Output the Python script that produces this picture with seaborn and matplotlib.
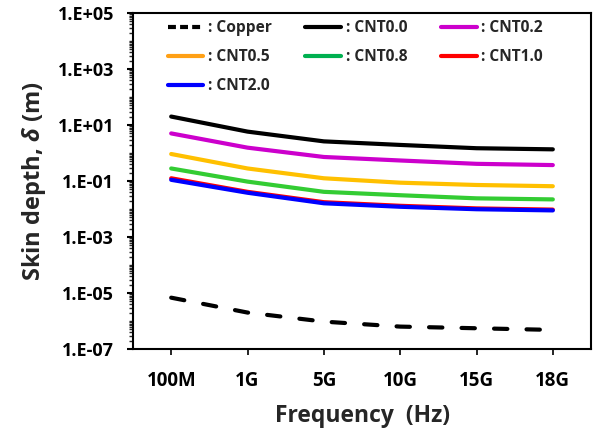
import numpy as np
import pandas as pd
import matplotlib
matplotlib.use("Agg")
import matplotlib.pyplot as plt
import matplotlib.ticker as mticker
from matplotlib.lines import Line2D
import seaborn as sns

# Frequency points (categorical axis)
frequencies = ["100M", "1G", "5G", "10G", "15G", "18G"]

# Skin depth (m) for each material
copper = [6.8e-6, 2.0e-6, 9.5e-7, 6.3e-7, 5.5e-7, 4.8e-7]
cnt00 = [20.0, 5.8, 2.6, 1.94, 1.48, 1.35]
cnt02 = [5.0, 1.55, 0.72, 0.54, 0.41, 0.37]
cnt05 = [0.92, 0.28, 0.125, 0.087, 0.072, 0.065]
cnt08 = [0.28, 0.095, 0.041, 0.031, 0.024, 0.022]
cnt10 = [0.125, 0.041, 0.0175, 0.013, 0.0105, 0.0095]
cnt20 = [0.11, 0.038, 0.016, 0.012, 0.0098, 0.0089]

series_names = ["Copper", "CNT0.0", "CNT0.2", "CNT0.5", "CNT0.8", "CNT1.0", "CNT2.0"]
series_values = [copper, cnt00, cnt02, cnt05, cnt08, cnt10, cnt20]
line_colors = ["#000000", "#000000", "#CC00CC", "#FFC000", "#33CC33", "#FF0000", "#0000FF"]
legend_colors = ["#000000", "#000000", "#CC00CC", "#FFA015", "#00B050", "#FF0000", "#0000FF"]

sns.set_theme(style="ticks")
plt.rcParams["font.family"] = ["Open Sans", "DejaVu Sans"]
plt.rcParams["font.weight"] = "bold"
plt.rcParams["mathtext.fontset"] = "custom"
plt.rcParams["mathtext.it"] = "Open Sans:bold:italic"
plt.rcParams["mathtext.rm"] = "Open Sans:bold"

rows = []
for name, vals in zip(series_names, series_values):
    for i, v in enumerate(vals):
        rows.append({"series": name, "pos": i, "depth": v})
df = pd.DataFrame(rows)

fig = plt.figure(figsize=(5.96, 4.30), dpi=100)
ax = fig.add_axes([0.2232, 0.1884, 0.7684, 0.7814])

for name, lc in zip(series_names, line_colors):
    sub = df[df["series"] == name]
    ls = (0, (3.2, 4.6)) if name == "Copper" else "-"
    sns.lineplot(data=sub, x="pos", y="depth", ax=ax, color=lc, linewidth=3.0,
                 linestyle=ls, sort=False, legend=False,
                 solid_capstyle="round", dash_capstyle="round")

ax.set_yscale("log")
ax.set_ylim(1e-7, 1e5)
ax.set_xlim(-0.5, len(frequencies) - 0.5)
ax.set_xticks(np.arange(len(frequencies)))
ax.set_xticklabels(frequencies)

ax.yaxis.set_major_locator(mticker.FixedLocator([10.0 ** e for e in range(-7, 6, 2)]))
ax.yaxis.set_minor_locator(mticker.LogLocator(base=10, subs=np.arange(1, 10), numticks=100))
ax.yaxis.set_major_formatter(mticker.FuncFormatter(
    lambda v, p: "1.E{:+03d}".format(int(round(np.log10(v))))))
ax.yaxis.set_minor_formatter(mticker.NullFormatter())

for side in ["left", "right", "top", "bottom"]:
    ax.spines[side].set_linewidth(1.5)
    ax.spines[side].set_color("black")

ax.tick_params(axis="y", which="major", direction="out", length=4.5, width=1.5,
               labelsize=13, pad=9, colors="black")
ax.tick_params(axis="y", which="minor", direction="out", length=3, width=1.0)
ax.tick_params(axis="x", which="major", direction="out", length=4, width=1.2,
               labelsize=13.5, pad=12, colors="black")
for lbl in ax.get_xticklabels() + ax.get_yticklabels():
    lbl.set_fontweight("bold")
ax.grid(False)

ax.set_xlabel("Frequency  (Hz)", fontsize=16.5, fontweight="bold", labelpad=9)
ax.set_ylabel(r"Skin depth, $\mathit{\delta}$ (m)", fontsize=17, fontweight="bold", labelpad=7)

# Legend in row-major order (3 columns)
handles = {}
for name, c in zip(series_names, legend_colors):
    ls = (0, (1.9, 1.0)) if name == "Copper" else "-"
    handles[name] = Line2D([], [], color=c, linewidth=3.0, linestyle=ls)
order = ["Copper", "CNT0.5", "CNT2.0", "CNT0.0", "CNT0.8", "CNT0.2", "CNT1.0"]
ax.legend([handles[n] for n in order], [": " + n for n in order],
          ncol=3, loc="upper left", bbox_to_anchor=(0.045, 1.02), frameon=False,
          prop={"weight": "bold", "size": 11.2}, handlelength=2.3,
          handletextpad=0.3, columnspacing=2.15, labelspacing=0.84)

fig.savefig("out.png", dpi=100)
